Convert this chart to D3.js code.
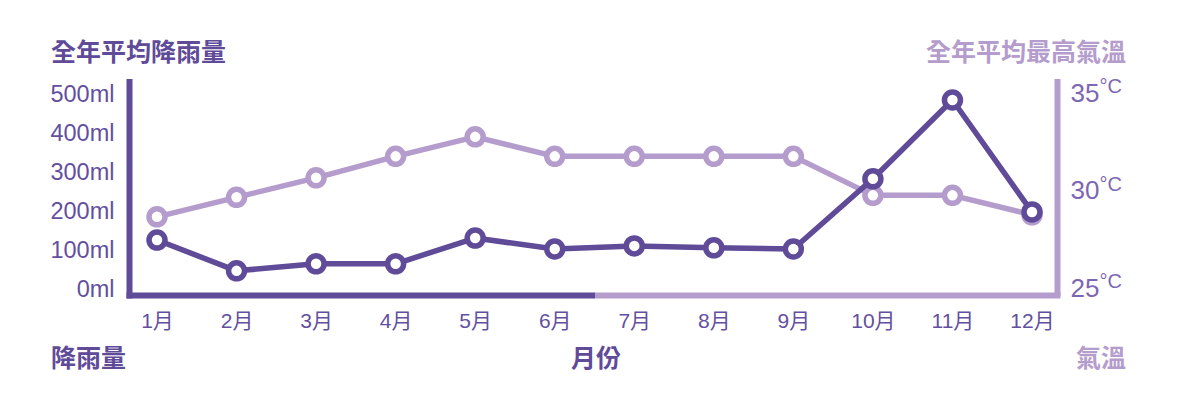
<!DOCTYPE html>
<html>
<head>
<meta charset="utf-8">
<script src="https://cdn.jsdelivr.net/npm/d3@7"></script>
<style>
  html, body { margin: 0; padding: 0; background: #fff; }
  svg { display: block; }
  .cjk { font-family: "Noto Sans CJK TC", "Noto Sans CJK SC", sans-serif; font-weight: 700; }
  .num { font-family: "Liberation Sans", Arial, Helvetica, "Noto Sans CJK TC", sans-serif; }
</style>
</head>
<body>
<svg id="chart" width="1200" height="400"></svg>
<script>
const months = ["1月","2月","3月","4月","5月","6月","7月","8月","9月","10月","11月","12月"];
const rainfall = [123, 44, 62, 62, 128, 100, 108, 103, 100, 280, 482, 195];
const maxTemp = [28.6, 29.6, 30.6, 31.7, 32.7, 31.7, 31.7, 31.7, 31.7, 29.7, 29.7, 28.7];
const rainTicks = [0, 100, 200, 300, 400, 500];
const tempTicks = [25, 30, 35];
const titles = { rainTitle: "全年平均降雨量", tempTitle: "全年平均最高氣溫", rainLabel: "降雨量", monthLabel: "月份", tempLabel: "氣溫" };

const dark = "#5f4b98";
const light = "#b49ccc";
const midTick = "#7d67b3";

const svg = d3.select("#chart");

const x = d3.scalePoint().domain(months).range([157, 1032]);
const yRain = d3.scaleLinear().domain([0, 500]).range([288, 93]);
const yTemp = d3.scaleLinear().domain([25, 35]).range([287, 92]);

const leftX = 129.5, rightX = 1057.5, baseY = 295.5, topY = 79;
const splitX = (x("6月") + x("7月")) / 2 + 0.5;

// Frame lines
svg.append("line").attr("x1", leftX).attr("x2", leftX).attr("y1", topY).attr("y2", baseY + 3)
  .attr("stroke", dark).attr("stroke-width", 6);
svg.append("line").attr("x1", leftX - 3).attr("x2", splitX).attr("y1", baseY).attr("y2", baseY)
  .attr("stroke", dark).attr("stroke-width", 6);
svg.append("line").attr("x1", splitX).attr("x2", rightX + 3).attr("y1", baseY).attr("y2", baseY)
  .attr("stroke", light).attr("stroke-width", 6);
svg.append("line").attr("x1", rightX).attr("x2", rightX).attr("y1", topY).attr("y2", baseY)
  .attr("stroke", light).attr("stroke-width", 6);

// Left axis labels
const gL = svg.append("g").attr("transform", `translate(${leftX},0)`)
  .call(d3.axisLeft(yRain).tickValues(rainTicks).tickSize(0).tickPadding(15).tickFormat(d => d + "ml"));
gL.select(".domain").remove();
gL.selectAll("text").attr("class", "num").attr("font-size", 23.5).attr("fill", "#634f9f").attr("dy", "0.35em");

// Right axis labels
const gR = svg.append("g").attr("transform", `translate(${rightX},0)`)
  .call(d3.axisRight(yTemp).tickValues(tempTicks).tickSize(0).tickPadding(13).tickFormat(d => d));
gR.select(".domain").remove();
gR.selectAll("text").attr("class", "num").attr("font-size", 26).attr("fill", midTick).attr("dy", "0.36em")
  .append("tspan").attr("font-size", 20).attr("dx", 0).attr("dy", "-0.42em").text("°C");

// Bottom axis labels
const gB = svg.append("g").attr("transform", `translate(0,${baseY})`)
  .call(d3.axisBottom(x).tickSize(0).tickPadding(19));
gB.select(".domain").remove();
gB.selectAll("text").attr("class", "num").attr("font-size", 21).attr("fill", "#634f9f").attr("dy", "0.64em");

// Lines
const lineT = d3.line().x((d, i) => x(months[i])).y(d => yTemp(d));
const lineR = d3.line().x((d, i) => x(months[i])).y(d => yRain(d));

svg.append("path").datum(maxTemp).attr("d", lineT).attr("fill", "none")
  .attr("stroke", light).attr("stroke-width", 5.5).attr("stroke-linejoin", "round");
svg.append("g").selectAll("circle").data(maxTemp).join("circle")
  .attr("cx", (d, i) => x(months[i])).attr("cy", d => yTemp(d)).attr("r", 8)
  .attr("fill", "#fff").attr("stroke", light).attr("stroke-width", 5.5);

svg.append("path").datum(rainfall).attr("d", lineR).attr("fill", "none")
  .attr("stroke", dark).attr("stroke-width", 5.5).attr("stroke-linejoin", "round");
svg.append("g").selectAll("circle").data(rainfall).join("circle")
  .attr("cx", (d, i) => x(months[i])).attr("cy", d => yRain(d)).attr("r", 8)
  .attr("fill", "#fff").attr("stroke", dark).attr("stroke-width", 5.5);

// Titles
svg.append("text").attr("class", "cjk").attr("x", 51).attr("y", 61).attr("font-size", 25)
  .attr("fill", dark).text(titles.rainTitle);
svg.append("text").attr("class", "cjk").attr("x", 1126).attr("y", 61).attr("font-size", 25)
  .attr("text-anchor", "end").attr("fill", light).text(titles.tempTitle);
svg.append("text").attr("class", "cjk").attr("x", 51).attr("y", 367).attr("font-size", 25)
  .attr("fill", dark).text(titles.rainLabel);
svg.append("text").attr("class", "cjk").attr("x", 596).attr("y", 367).attr("font-size", 25)
  .attr("text-anchor", "middle").attr("fill", dark).text(titles.monthLabel);
svg.append("text").attr("class", "cjk").attr("x", 1126).attr("y", 367).attr("font-size", 25)
  .attr("text-anchor", "end").attr("fill", light).text(titles.tempLabel);
</script>
</body>
</html>
